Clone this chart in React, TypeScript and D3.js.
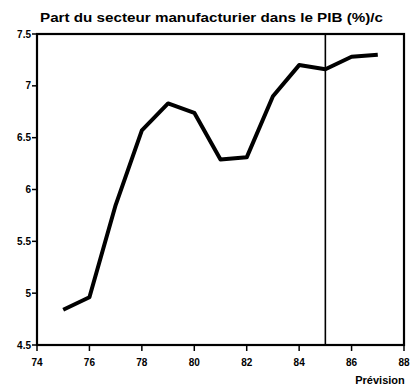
import React from "react";
import * as d3 from "d3";

const years = [75, 76, 77, 78, 79, 80, 81, 82, 83, 84, 85, 86, 87];
const share = [4.84, 4.96, 5.85, 6.57, 6.83, 6.74, 6.29, 6.31, 6.9, 7.2, 7.16, 7.28, 7.3];
const xTicks = [74, 76, 78, 80, 82, 84, 86, 88];
const yTicks = [4.5, 5, 5.5, 6, 6.5, 7, 7.5];
const yTickLabels = ["4.5", "5", "5.5", "6", "6.5", "7", "7.5"];
const forecastStart = 85;
const title = "Part du secteur manufacturier dans le PIB (%)/c";
const forecastLabel = "Prévision";

export default function App() {
  const W = 412, H = 388;
  const x = d3.scaleLinear().domain([74, 88]).range([37, 404]);
  const y = d3.scaleLinear().domain([4.5, 7.5]).range([345, 34]);
  const line = d3.line<number>().x((_, i) => x(years[i])).y((d) => y(d));
  const font = "'Liberation Sans', Arial, sans-serif";
  return (
    <svg width={W} height={H} style={{ position: "absolute", left: 0, top: 0, background: "#fff" }}>
      <text x={40} y={22} fontFamily={font} fontWeight="bold" fontSize={13} textLength={343} lengthAdjust="spacingAndGlyphs" fill="#000">
        {title}
      </text>
      {/* frame */}
      <rect x={x(74)} y={y(7.5)} width={x(88) - x(74)} height={y(4.5) - y(7.5)} fill="none" stroke="#000" strokeWidth={2.2} />
      {/* forecast line */}
      <line x1={x(forecastStart)} x2={x(forecastStart)} y1={y(7.5)} y2={y(4.5)} stroke="#000" strokeWidth={1.6} />
      {/* y ticks */}
      {yTicks.map((t, i) => (
        <g key={t}>
          <line x1={x(74) - 5} x2={x(74)} y1={y(t)} y2={y(t)} stroke="#000" strokeWidth={1.5} />
          <text x={x(74) - 6} y={y(t)} dy="0.35em" textAnchor="end" fontFamily={font} fontWeight="bold" fontSize={10} fill="#000">
            {yTickLabels[i]}
          </text>
        </g>
      ))}
      {/* x ticks */}
      {xTicks.map((t) => (
        <g key={t}>
          <line x1={x(t)} x2={x(t)} y1={y(4.5)} y2={y(4.5) + 6} stroke="#000" strokeWidth={1.5} />
          <text x={x(t)} y={366} textAnchor="middle" fontFamily={font} fontWeight="bold" fontSize={10} fill="#000">
            {t}
          </text>
        </g>
      ))}
      <text x={380} y={384} textAnchor="middle" fontFamily={font} fontWeight="bold" fontSize={11} fill="#000">
        {forecastLabel}
      </text>
      <path d={line(share) || ""} fill="none" stroke="#000" strokeWidth={4} strokeLinejoin="round" strokeLinecap="butt" />
    </svg>
  );
}
